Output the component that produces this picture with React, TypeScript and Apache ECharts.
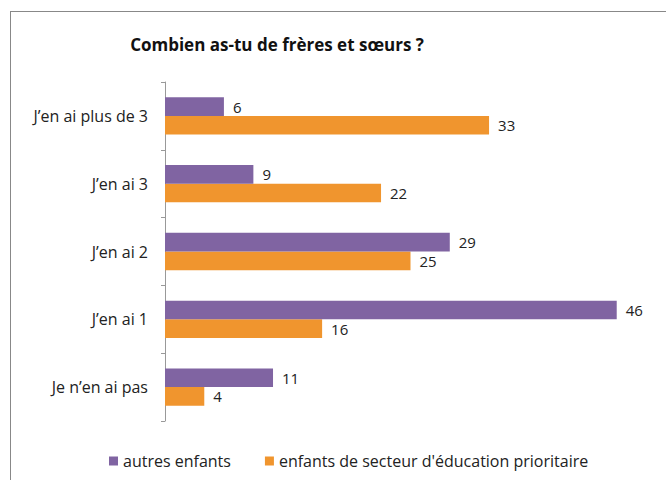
import React, { useEffect, useRef } from "react";
import * as echarts from "echarts";

const categories = ["Je n\u2019en ai pas", "J\u2019en ai 1", "J\u2019en ai 2", "J\u2019en ai 3", "J\u2019en ai plus de 3"];
const autresEnfants = [11, 46, 29, 9, 6];
const enfantsPrioritaire = [4, 16, 25, 22, 33];
const seriesNames = ["autres enfants", "enfants de secteur d'\u00e9ducation prioritaire"];
const titleText = "Combien as-tu de fr\u00e8res et s\u0153urs ?";

const FONT = "'Open Sans', 'Noto Sans', sans-serif";

export default function App() {
  const ref = useRef<HTMLDivElement>(null);
  useEffect(() => {
    if (!ref.current) return;
    const chart = echarts.init(ref.current, undefined, { renderer: "svg" });
    const labelStyle = {
      show: true,
      position: "right" as const,
      distance: 9,
      color: "#222",
      fontSize: 15,
      fontFamily: FONT,
    };
    chart.setOption({
      animation: false,
      backgroundColor: "#fff",
      title: {
        text: titleText,
        left: 272,
        top: 31,
        textAlign: "center",
        textStyle: { fontFamily: FONT, fontWeight: "bold", fontSize: 17, color: "#111" },
      },
      graphic: [
        { type: "line", shape: { x1: 10, y1: 11.5, x2: 666, y2: 11.5 }, style: { stroke: "#888", lineWidth: 1 } },
        { type: "line", shape: { x1: 10.5, y1: 11, x2: 10.5, y2: 480 }, style: { stroke: "#888", lineWidth: 1 } },
      ],
      legend: {
        data: seriesNames,
        left: 104,
        top: 448,
        itemWidth: 9,
        itemHeight: 9,
        itemGap: 34,
        icon: "rect",
        textStyle: { fontFamily: FONT, fontSize: 16, color: "#222" },
      },
      grid: { left: 165, right: 10, top: 82, bottom: 59, containLabel: false },
      xAxis: {
        type: "value",
        min: 0,
        max: 50,
        show: false,
      },
      yAxis: {
        type: "category",
        data: categories,
        axisLine: { show: true, lineStyle: { color: "#999" } },
        axisTick: { show: true, length: 4, lineStyle: { color: "#999" } },
        axisLabel: { fontFamily: FONT, fontSize: 16, color: "#222", margin: 17 },
        splitLine: { show: false },
      },
      series: [
        {
          name: seriesNames[0],
          type: "bar",
          data: autresEnfants,
          itemStyle: { color: "#8064a2" },
          barGap: "0%",
          barCategoryGap: "45%",
          label: labelStyle,
          z: 3,
        },
        {
          name: seriesNames[1],
          type: "bar",
          data: enfantsPrioritaire,
          itemStyle: { color: "#f0952e" },
          barGap: "0%",
          barCategoryGap: "45%",
          label: labelStyle,
        },
      ],
    });
    return () => chart.dispose();
  }, []);
  return <div ref={ref} style={{ position: "absolute", left: 0, top: 0, width: 666, height: 480 }} />;
}
